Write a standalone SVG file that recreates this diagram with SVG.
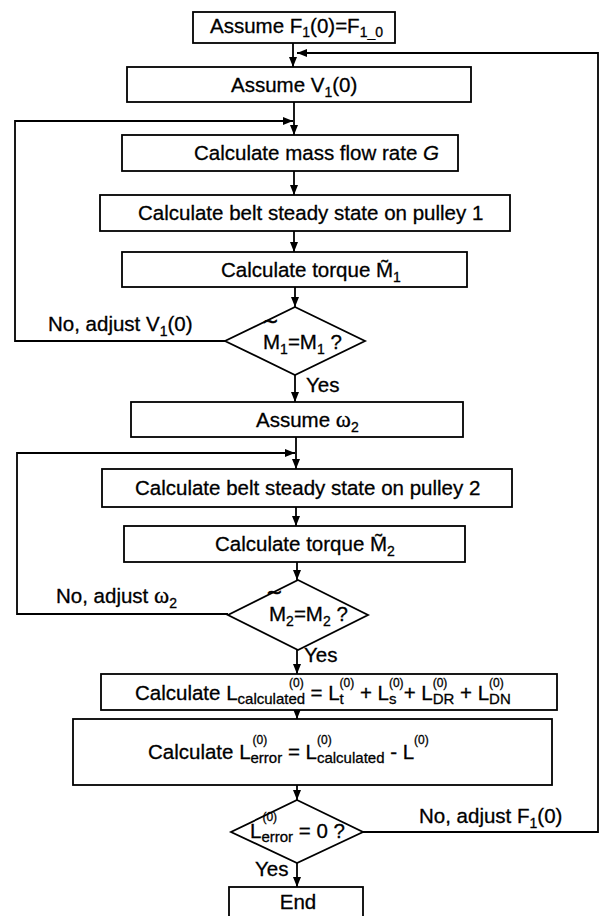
<svg xmlns="http://www.w3.org/2000/svg" width="600" height="916" viewBox="0 0 600 916">
<style>
.box{fill:#fff;stroke:#000;stroke-width:1.8}
.ln{fill:none;stroke:#000;stroke-width:1.8}
.t{font-family:"Liberation Sans",Arial,sans-serif;font-size:20.5px;fill:#000;stroke:#000;stroke-width:0.3}
.sub{font-size:14px}
.sb{font-size:15px}
.sup{font-size:12px}
.w{font-family:"Liberation Serif","Times New Roman",serif;font-size:23px}
.tl{font-family:"DejaVu Sans",sans-serif;font-size:20px;stroke-width:0.6}
</style>
<defs>
<marker id="ah" viewBox="0 0 10 8" refX="10" refY="4" markerWidth="10" markerHeight="8" markerUnits="userSpaceOnUse" orient="auto">
<path d="M0,0 L10,4 L0,8 z" fill="#000"/>
</marker>
</defs>
<g id="connectors">
<line class="ln" x1="293" y1="43" x2="293" y2="67" marker-end="url(#ah)"/>
<line class="ln" x1="294" y1="102" x2="294" y2="135" marker-end="url(#ah)"/>
<line class="ln" x1="294" y1="171" x2="294" y2="195" marker-end="url(#ah)"/>
<line class="ln" x1="294" y1="231" x2="294" y2="252" marker-end="url(#ah)"/>
<line class="ln" x1="295" y1="287" x2="295" y2="307" marker-end="url(#ah)"/>
<line class="ln" x1="295" y1="375" x2="295" y2="402" marker-end="url(#ah)"/>
<line class="ln" x1="296" y1="437" x2="296" y2="469" marker-end="url(#ah)"/>
<line class="ln" x1="296" y1="507" x2="296" y2="526" marker-end="url(#ah)"/>
<line class="ln" x1="297" y1="562" x2="297" y2="580" marker-end="url(#ah)"/>
<line class="ln" x1="297" y1="650" x2="297" y2="674" marker-end="url(#ah)"/>
<line class="ln" x1="297" y1="710" x2="297" y2="719" marker-end="url(#ah)"/>
<line class="ln" x1="297" y1="785" x2="297" y2="800" marker-end="url(#ah)"/>
<line class="ln" x1="297" y1="863" x2="297" y2="887" marker-end="url(#ah)"/>
<polyline class="ln" points="363,832 598,832 598,53 297,53" marker-end="url(#ah)"/>
<polyline class="ln" points="225,341 15,341 15,121 293,121" marker-end="url(#ah)"/>
<polyline class="ln" points="228,614 17,614 17,453 295,453" marker-end="url(#ah)"/>
</g>
<g id="n1"><rect class="box" x="193" y="12" width="202" height="31"/>
<text class="t" x="210" y="33">Assume F<tspan class="sub" dy="4">1</tspan><tspan dy="-4">(0)=F</tspan><tspan class="sub" dy="4">1_0</tspan></text></g>
<g id="n2"><rect class="box" x="127" y="67" width="344" height="35"/>
<text class="t" x="231" y="92">Assume V<tspan class="sub" dy="5">1</tspan><tspan dy="-5">(0)</tspan></text></g>
<g id="n3"><rect class="box" x="122" y="135" width="336" height="36"/>
<text class="t" x="194" y="160">Calculate mass flow rate <tspan font-style="italic">G</tspan></text></g>
<g id="n4"><rect class="box" x="100" y="195" width="410" height="36"/>
<text class="t" x="138" y="220">Calculate belt steady state on pulley 1</text></g>
<g id="n5"><rect class="box" x="122" y="252" width="345" height="35"/>
<text class="t" x="221" y="277">Calculate torque M&#x303;<tspan class="sub" dy="5">1</tspan></text></g>
<g id="d1"><polygon class="box" points="295,307 365,341 295,375 225,341"/>
<text class="t"><tspan class="tl" x="262" y="328">~</tspan><tspan x="263" y="349">M</tspan><tspan class="sub" dy="5">1</tspan><tspan dy="-5">=M</tspan><tspan class="sub" dy="5">1</tspan><tspan dy="-5"> ?</tspan></text></g>
<g id="n6"><rect class="box" x="131" y="402" width="332" height="35"/>
<text class="t" x="256" y="427">Assume <tspan class="w">ω</tspan><tspan class="sub" dy="5">2</tspan></text></g>
<g id="n7"><rect class="box" x="102" y="469" width="410" height="38"/>
<text class="t" x="135" y="495">Calculate belt steady state on pulley 2</text></g>
<g id="n8"><rect class="box" x="124" y="526" width="341" height="36"/>
<text class="t" x="215" y="551">Calculate torque M&#x303;<tspan class="sub" dy="5">2</tspan></text></g>
<g id="d2"><polygon class="box" points="298,580 368,615 298,650 228,615"/>
<text class="t"><tspan class="tl" x="266" y="599">~</tspan><tspan x="269" y="621">M</tspan><tspan class="sub" dy="5">2</tspan><tspan dy="-5">=M</tspan><tspan class="sub" dy="5">2</tspan><tspan dy="-5"> ?</tspan></text></g>
<g id="n9"><rect class="box" x="101" y="674" width="456" height="36"/>
<text class="t" x="135" y="700">Calculate L<tspan class="sb" dy="4">calculated</tspan><tspan class="sup" dx="-16" dy="-17">(0)</tspan><tspan dx="1" dy="13"> = L</tspan><tspan class="sup" dy="-13">(0)</tspan><tspan class="sb" dx="-14.7" dy="17">t</tspan><tspan dx="10.5" dy="-4"> + L</tspan><tspan class="sup" dy="-13">(0)</tspan><tspan class="sb" dx="-14.7" dy="17">s</tspan><tspan dx="7.2" dy="-4">+ L</tspan><tspan class="sup" dy="-13">(0)</tspan><tspan class="sb" dx="-14.7" dy="17">DR</tspan><tspan dy="-4"> + L</tspan><tspan class="sup" dy="-13">(0)</tspan><tspan class="sb" dx="-14.7" dy="17">DN</tspan></text></g>
<g id="n10"><rect class="box" x="73" y="719" width="479" height="66"/>
<text class="t" x="148" y="759">Calculate L<tspan class="sup" dx="2" dy="-15">(0)</tspan><tspan class="sb" dx="-16.7" dy="19">error</tspan><tspan dy="-4"> = L</tspan><tspan class="sup" dy="-15">(0)</tspan><tspan class="sb" dx="-14.7" dy="19">calculated</tspan><tspan dy="-4"> - L</tspan><tspan class="sup" dy="-15">(0)</tspan></text></g>
<g id="d3"><polygon class="box" points="297,800 363,832 297,863 231,832"/>
<text class="t" x="250" y="838">L<tspan class="sup" dx="1" dy="-17">(0)</tspan><tspan class="sb" dx="-15.7" dy="21">error</tspan><tspan dy="-4"> = 0 ?</tspan></text></g>
<g id="n11"><rect class="box" x="229" y="887" width="134" height="32"/>
<text class="t" x="298" y="909" text-anchor="middle">End</text></g>
<g id="labels">
<text class="t" x="48" y="331">No, adjust V<tspan class="sub" dy="5">1</tspan><tspan dy="-5">(0)</tspan></text>
<text class="t" x="306" y="392">Yes</text>
<text class="t" x="56" y="603">No, adjust <tspan class="w">ω</tspan><tspan class="sub" dy="5">2</tspan></text>
<text class="t" x="304" y="662">Yes</text>
<text class="t" x="419" y="823">No, adjust F<tspan class="sub" dy="5">1</tspan><tspan dy="-5">(0)</tspan></text>
<text class="t" x="255" y="876">Yes</text>
</g>
</svg>
